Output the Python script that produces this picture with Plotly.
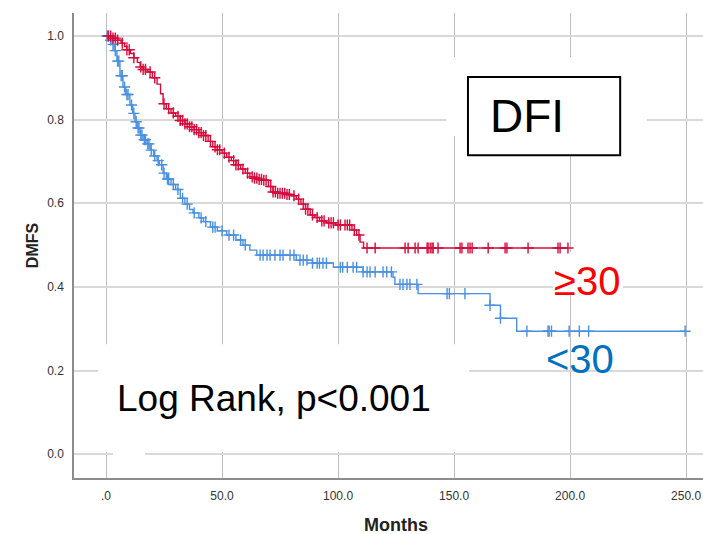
import numpy as np
import plotly.graph_objects as go

# ---------------- data ----------------
# Group ">=30" (red): event times (months) and survival after each step
high_t = [0, 3, 5, 6.5, 8, 9, 10.5, 12, 13.5, 14.7, 16, 18, 20, 22, 23.5, 24.6, 26, 28, 30, 32, 34,
          36, 38, 40, 42, 44, 46, 48, 50, 52, 54, 56, 58, 60, 62, 64, 66, 67.7, 70, 72, 74, 78, 80,
          82, 84, 86, 88, 90, 92, 95, 99, 106, 108, 109.5, 111]
high_s = [1.0, 0.995, 0.99, 0.983, 0.975, 0.967, 0.958, 0.948, 0.937, 0.926, 0.92, 0.914, 0.90,
          0.885, 0.862, 0.838, 0.826, 0.816, 0.808, 0.798, 0.79, 0.783, 0.776, 0.769, 0.762, 0.748,
          0.735, 0.728, 0.72, 0.71, 0.702, 0.692, 0.682, 0.672, 0.663, 0.66, 0.657, 0.655, 0.64,
          0.627, 0.624, 0.621, 0.618, 0.61, 0.598, 0.586, 0.572, 0.566, 0.558, 0.553, 0.548, 0.536,
          0.524, 0.507, 0.493]
high_cens = [1, 2, 3, 4, 5, 7, 9, 10, 12, 15, 16, 17, 19, 21, 25, 27, 29, 31, 32, 33, 34, 35, 36,
             37, 38, 39, 40, 41, 42, 43, 45, 47, 48, 49, 51, 53, 55, 56, 57, 59, 61, 63, 64, 65, 66,
             67, 68, 69, 71, 72, 73, 74, 75, 76, 77, 78, 79, 81, 83, 85, 86, 87, 89, 91, 93, 94, 96,
             97, 98, 100, 101, 103, 104, 105, 107, 109, 112.5, 116, 128.9, 130.2, 133.2, 134.5,
             138.4, 138.8, 139.7, 140.5, 141, 143.1, 152.6, 153.4, 156, 156.9, 157.8, 164.7, 172,
             172.8, 181.9, 194.8, 195.7, 199.1]

# Group "<30" (blue)
low_t = [0, 1.5, 2.6, 3.5, 4.7, 6, 7.3, 8.5, 10.3, 11.5, 12.5, 13.4, 14.7, 16, 17.7, 19, 20.5, 22,
         23, 24.6, 26, 28, 30, 32, 34, 36, 37.5, 40, 42, 45, 48, 52, 56, 59, 62, 65, 82, 89, 98,
         110.8, 123.7, 124.5, 134.5, 165.5, 170, 177]
low_s = [1.0, 0.99, 0.98, 0.965, 0.94, 0.905, 0.878, 0.86, 0.835, 0.815, 0.795, 0.78, 0.763, 0.752,
         0.742, 0.727, 0.713, 0.702, 0.692, 0.672, 0.658, 0.645, 0.633, 0.612, 0.598, 0.585, 0.577,
         0.565, 0.556, 0.543, 0.534, 0.524, 0.512, 0.5, 0.488, 0.476, 0.464, 0.457, 0.447, 0.436,
         0.423, 0.406, 0.384, 0.356, 0.325, 0.294]
low_cens = [0.5, 1, 2, 3, 4, 5, 5.5, 6.5, 7, 8, 9, 9.5, 11, 12, 13, 13.8, 14.2, 15, 15.5, 16.5, 17,
            18, 18.5, 19.5, 21, 22.5, 24, 25, 26.5, 27, 29, 31, 33, 35, 38, 41, 43, 46, 47, 50, 53,
            55, 58, 60, 66.4, 67.7, 69.4, 70.7, 72.8, 75, 76.3, 79.3, 81, 83.6, 85, 86.6, 89, 91,
            92, 93.5, 95, 101, 102, 104, 106.5, 108, 110.8, 112.5, 113.8, 116, 119.4, 121, 123,
            126.7, 128, 129.7, 131, 134, 147, 148, 154.7, 165.5, 170, 181.4, 190.5, 191, 192,
            199.6, 204, 208, 249.6]

x_ticks = [0, 50, 100, 150, 200, 250]
x_tick_labels = [".0", "50.0", "100.0", "150.0", "200.0", "250.0"]
y_ticks = [0.0, 0.2, 0.4, 0.6, 0.8, 1.0]
y_tick_labels = ["0.0", "0.2", "0.4", "0.6", "0.8", "1.0"]

RED = "#D50C3C"
BLUE = "#4A90E2"
FONT = "Arial, Liberation Sans, sans-serif"


def surv_at(times, surv, t):
    times = np.asarray(times)
    surv = np.asarray(surv)
    idx = np.searchsorted(times, np.asarray(t), side="right") - 1
    return surv[idx]


fig = go.Figure()


def add_group(times, surv, cens, color, name):
    end = max(max(cens), max(times))
    xs = list(times) + [end]
    ys = list(surv) + [surv[-1]]
    fig.add_trace(go.Scatter(x=xs, y=ys, mode="lines", line=dict(color=color, width=1.4, shape="hv"),
                             name=name, showlegend=False, hoverinfo="skip"))
    fig.add_trace(go.Scatter(x=cens, y=surv_at(times, surv, cens), mode="markers",
                             marker=dict(symbol="cross-thin", size=8,
                                         line=dict(color=color, width=1.4)),
                             name=name + " censored", showlegend=False, hoverinfo="skip"))


add_group(low_t, low_s, low_cens, BLUE, "<30")
add_group(high_t, high_s, high_cens, RED, "≥30")

# white text-box backgrounds that hide the gridlines (drawn between grid and traces)
white_boxes = [
    (146.6, 233.2, 0.761, 0.95),    # behind DFI
    (-3.4, 156.5, 0.005, 0.263),    # behind Log Rank
    (3.0, 16.8, -0.008, 0.01),      # small gap at 0.0
    (192.7, 222.8, 0.385, 0.483),   # behind >=30
]
for x0, x1, y0, y1 in white_boxes:
    fig.add_shape(type="rect", xref="x", yref="y", x0=x0, x1=x1, y0=y0, y1=y1,
                  fillcolor="white", line=dict(width=0), layer="between")

# framed DFI box
fig.add_shape(type="rect", xref="x", yref="y", x0=156, x1=221.6, y0=0.715, y1=0.902,
              fillcolor="white", line=dict(color="black", width=2), layer="between")

fig.add_annotation(x=164.5, y=0.809, xref="x", yref="y", text="DFI", showarrow=False,
                   xanchor="left", yanchor="middle", font=dict(family=FONT, size=46, color="black"))
fig.add_annotation(x=4.0, y=0.134, xref="x", yref="y", text="Log Rank, p<0.001", showarrow=False,
                   xanchor="left", yanchor="middle", font=dict(family=FONT, size=37, color="black"))
fig.add_annotation(x=192.2, y=0.414, xref="x", yref="y", text="≥30", showarrow=False,
                   xanchor="left", yanchor="middle", font=dict(family=FONT, size=40, color="#FF0000"))
fig.add_annotation(x=188.6, y=0.227, xref="x", yref="y", text="<30", showarrow=False,
                   xanchor="left", yanchor="middle", font=dict(family=FONT, size=40, color="#0070C0"))

# axis titles (the original plot frame is cropped on the right, so the x title sits right of centre)
fig.add_annotation(x=0.512, y=-0.102, xref="paper", yref="paper", text="<b>Months</b>",
                   showarrow=False, xanchor="center", yanchor="middle",
                   font=dict(family=FONT, size=18, color="#222222"))

fig.update_xaxes(range=[-13.8, 257.3], tickvals=x_ticks, ticktext=x_tick_labels,
                 showgrid=True, gridcolor="#BDBDBD", gridwidth=1,
                 showline=True, linecolor="#8C8C8C", linewidth=1.5, zeroline=False,
                 ticks="", ticklabelstandoff=6,
                 tickfont=dict(family=FONT, size=12, color="#333333"))
fig.update_yaxes(range=[-0.057, 1.055], tickvals=y_ticks, ticktext=y_tick_labels,
                 showgrid=True, gridcolor="#D9D9D9", gridwidth=2,
                 showline=True, linecolor="#8C8C8C", linewidth=1.5, zeroline=False,
                 ticks="", ticklabelstandoff=6,
                 tickfont=dict(family=FONT, size=12, color="#333333"),
                 title=dict(text="<b>DMFS</b>", font=dict(family=FONT, size=16, color="#222222"),
                            standoff=5))

fig.update_layout(width=703, height=534, margin=dict(l=74, r=0, t=13, b=56),
                  plot_bgcolor="white", paper_bgcolor="white", showlegend=False)

fig.write_html("out.html")
